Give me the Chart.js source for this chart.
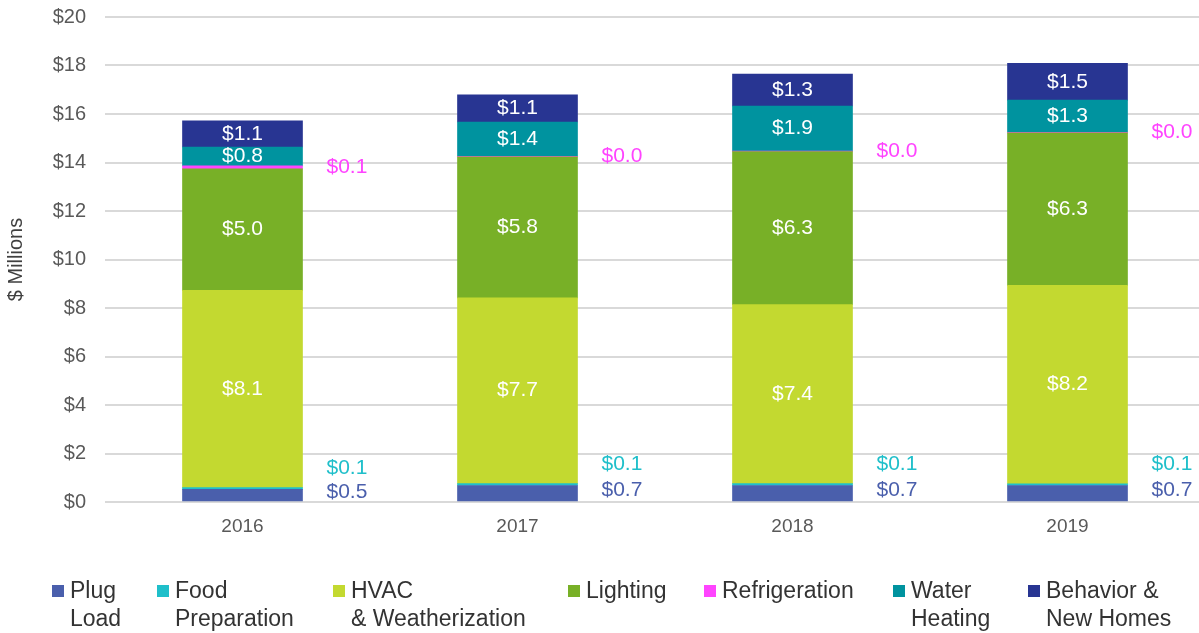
<!DOCTYPE html>
<html>
<head>
<meta charset="utf-8">
<title>Savings by end use</title>
<script src="https://cdn.jsdelivr.net/npm/chart.js@4.4.1/dist/chart.umd.min.js"></script>
<style>
  html, body { margin: 0; padding: 0; background: #fff; overflow: hidden; }
  #wrap { width: 1205px; height: 633px; }
</style>
</head>
<body>
<div id="wrap"><canvas id="savingsChart" width="1205" height="633"></canvas></div>
<script>
// data, $ millions
const years = ['2016', '2017', '2018', '2019'];
const seriesNames = [
    ['Plug', 'Load'],
    ['Food', 'Preparation'],
    ['HVAC', '& Weatherization'],
    ['Lighting'],
    ['Refrigeration'],
    ['Water', 'Heating'],
    ['Behavior &', 'New Homes']
];
const plugLoad      = [0.52, 0.68, 0.68, 0.68];
const foodPrep      = [0.07, 0.08, 0.08, 0.07];
const hvac          = [8.14, 7.66, 7.38, 8.18];
const lighting      = [5.01, 5.81, 6.31, 6.29];
const refrigeration = [0.12, 0.02, 0.02, 0.02];
const waterHeating  = [0.78, 1.42, 1.86, 1.33];
const behavior      = [1.08, 1.12, 1.32, 1.52];
const yMin = 0, yMax = 20, yStep = 2;

const FONT = '"Liberation Sans", Arial, sans-serif';

const barLabels = {
    id: 'barLabels',
    afterDatasetsDraw(chart) {
        const ctx = chart.ctx;
        ctx.save();
        ctx.font = '21px ' + FONT;
        ctx.textBaseline = 'middle';
        chart.data.datasets.forEach((ds, i) => {
            const meta = chart.getDatasetMeta(i);
            meta.data.forEach((bar, j) => {
                const text = '$' + ds.data[j].toFixed(1);
                const mid = (bar.y + bar.base) / 2;
                if (ds.labelInside) {
                    ctx.fillStyle = '#ffffff';
                    ctx.textAlign = 'center';
                    ctx.fillText(text, bar.x, mid);
                } else {
                    ctx.fillStyle = ds.labelColor;
                    ctx.textAlign = 'left';
                    ctx.fillText(text, bar.x + bar.width / 2 + 24, mid + ds.labelShift);
                }
            });
        });
        ctx.restore();
    }
};

const legendRow = {
    id: 'legendRow',
    afterDraw(chart) {
        const ctx = chart.ctx;
        const boxX = [52, 157, 333, 568, 704, 893, 1028];
        ctx.save();
        ctx.font = '23px ' + FONT;
        ctx.textBaseline = 'middle';
        ctx.textAlign = 'left';
        chart.data.datasets.forEach((ds, i) => {
            ctx.fillStyle = ds.backgroundColor;
            ctx.fillRect(boxX[i], 585, 12, 12);
            ctx.fillStyle = '#333333';
            seriesNames[i].forEach((line, k) => {
                ctx.fillText(line, boxX[i] + 18, 592 + k * 28);
            });
        });
        ctx.restore();
    }
};

function series(label, data, color, inside, labelColor, labelShift) {
    return {
        label: label,
        data: data,
        backgroundColor: color,
        borderWidth: 0,
        barThickness: 120,
        labelInside: inside,
        labelColor: labelColor,
        labelShift: labelShift || 0
    };
}

const ctx = document.getElementById('savingsChart').getContext('2d');
new Chart(ctx, {
    type: 'bar',
    data: {
        labels: years,
        datasets: [
            series(seriesNames[0].join(' '), plugLoad, '#4a5fac', false, '#4a5fac', -3),
            series(seriesNames[1].join(' '), foodPrep, '#1fbfca', false, '#1fbfca', -20),
            series(seriesNames[2].join(' '), hvac, '#c3d930', true),
            series(seriesNames[3].join(' '), lighting, '#78b027', true),
            series(seriesNames[4].join(' '), refrigeration, '#ff44ff', false, '#ff44ff', 0),
            series(seriesNames[5].join(' '), waterHeating, '#00939f', true),
            series(seriesNames[6].join(' '), behavior, '#283592', true)
        ]
    },
    options: {
        responsive: false,
        animation: false,
        layout: { padding: { top: 17, right: 0, bottom: 91, left: 0 } },
        plugins: {
            legend: { display: false },
            tooltip: { enabled: false }
        },
        scales: {
            x: {
                stacked: true,
                grid: { display: false },
                border: { display: false },
                ticks: { color: '#595959', font: { family: FONT, size: 19 }, padding: 5 },
                afterFit: scale => { scale.height = 40; }
            },
            y: {
                stacked: true,
                min: yMin,
                max: yMax,
                grid: { color: '#d9d9d9', lineWidth: 2, drawTicks: false },
                border: { display: false },
                ticks: {
                    stepSize: yStep,
                    padding: 19,
                    color: '#595959',
                    font: { family: FONT, size: 20 },
                    callback: v => '$' + v
                },
                title: {
                    display: true,
                    text: '$ Millions',
                    color: '#404040',
                    font: { family: FONT, size: 20 },
                    padding: { top: 4, bottom: 0 }
                },
                afterFit: scale => {
                    scale.width = 105;
                    // tick padding would otherwise push the plot top down
                    scale.paddingTop = 0;
                    scale.paddingBottom = 0;
                }
            }
        }
    },
    plugins: [barLabels, legendRow]
});
</script>
</body>
</html>
